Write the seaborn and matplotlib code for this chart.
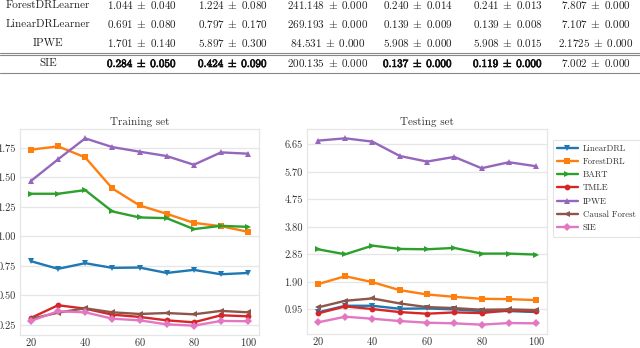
import numpy as np
import pandas as pd
import matplotlib
matplotlib.use("Agg")
import matplotlib.pyplot as plt
import matplotlib.patheffects as pe
import seaborn as sns

# ---------------- data ----------------
sizes = [20, 30, 40, 50, 60, 70, 80, 90, 100]
methods = ["LinearDRL", "ForestDRL", "BART", "TMLE", "IPWE", "Causal Forest", "SIE"]
markers = ["v", "s", ">", "o", "^", "<", "D"]

train_lineardrl = [0.79, 0.725, 0.773, 0.733, 0.736, 0.69, 0.716, 0.679, 0.69]
train_forestdrl = [1.736, 1.764, 1.671, 1.407, 1.263, 1.192, 1.115, 1.087, 1.039]
train_bart = [1.362, 1.362, 1.393, 1.212, 1.161, 1.155, 1.062, 1.09, 1.081]
train_tmle = [0.308, 0.416, 0.387, 0.336, 0.317, 0.288, 0.271, 0.331, 0.322]
train_ipwe = [1.47, 1.654, 1.832, 1.758, 1.719, 1.682, 1.608, 1.713, 1.702]
train_cf = [0.30, 0.353, 0.39, 0.356, 0.342, 0.35, 0.339, 0.368, 0.356]
train_sie = [0.283, 0.365, 0.356, 0.302, 0.288, 0.254, 0.243, 0.283, 0.28]

test_lineardrl = [0.841, 1.07, 1.07, 0.967, 0.979, 0.944, 0.887, 0.887, 0.852]
test_forestdrl = [1.817, 2.093, 1.886, 1.61, 1.46, 1.38, 1.311, 1.30, 1.266]
test_bart = [3.023, 2.85, 3.15, 3.035, 3.023, 3.07, 2.874, 2.874, 2.84]
test_tmle = [0.806, 1.048, 0.956, 0.852, 0.795, 0.841, 0.818, 0.91, 0.875]
test_ipwe = [6.78, 6.86, 6.745, 6.25, 6.056, 6.217, 5.826, 6.033, 5.895]
test_cf = [1.013, 1.243, 1.323, 1.15, 1.024, 0.99, 0.932, 0.944, 0.921]
test_sie = [0.496, 0.691, 0.622, 0.542, 0.485, 0.462, 0.416, 0.473, 0.462]

train_ticks = [0.25, 0.50, 0.75, 1.00, 1.25, 1.50, 1.75]
test_ticks = [0.95, 1.90, 2.85, 3.80, 4.75, 5.70, 6.65]
x_ticks = [20, 40, 60, 80, 100]

table_rows = ["ForestDRLearner", "LinearDRLearner", "IPWE", "SIE"]
table_cells = [
    ["1.044 ± 0.040", "1.224 ± 0.080", "241.148 ± 0.000", "0.240 ± 0.014", "0.241 ± 0.013", "7.807 ± 0.000"],
    ["0.691 ± 0.080", "0.797 ± 0.170", "269.193 ± 0.000", "0.139 ± 0.009", "0.139 ± 0.008", "7.107 ± 0.000"],
    ["1.701 ± 0.140", "5.897 ± 0.300", "84.531 ± 0.000", "5.908 ± 0.000", "5.908 ± 0.015", "2.1725 ± 0.000"],
    ["0.284 ± 0.050", "0.424 ± 0.090", "200.135 ± 0.000", "0.137 ± 0.000", "0.119 ± 0.000", "7.002 ± 0.000"],
]
sie_bold = [True, True, False, True, True, False]

# ---------------- build long tables ----------------
train_vals = [train_lineardrl, train_forestdrl, train_bart, train_tmle, train_ipwe, train_cf, train_sie]
test_vals = [test_lineardrl, test_forestdrl, test_bart, test_tmle, test_ipwe, test_cf, test_sie]

def long_df(vals):
    rows = []
    for m, v in zip(methods, vals):
        for s, y in zip(sizes, v):
            rows.append({"size": s, "value": y, "method": m})
    return pd.DataFrame(rows)

df_train = long_df(train_vals)
df_test = long_df(test_vals)

# ---------------- style ----------------
sns.set_theme(style="whitegrid")
plt.rcParams["font.family"] = ["cmr10", "DejaVu Serif"]
plt.rcParams["mathtext.fontset"] = "cm"
plt.rcParams["axes.formatter.use_mathtext"] = True
plt.rcParams["axes.unicode_minus"] = False

palette = sns.color_palette("tab10", 7)
W, H = 640, 348
fig = plt.figure(figsize=(6.4, 3.48), dpi=100)

def fx(px):
    return px / W

def fy(py):
    return 1 - py / H

def to_math(cell, bold):
    a, b = cell.split(" ± ")
    if bold:
        return "$\\mathbf{" + a + "}\\;\\pm\\;\\mathbf{" + b + "}$"
    return "$" + a + "\\;\\pm\\;" + b + "$"

# ---------------- table ----------------
row_y = [5, 24, 43, 63]
col_x = [48, 142, 233, 328, 418, 508, 596]
tfs = 8.0
for i, (name, cells) in enumerate(zip(table_rows, table_cells)):
    fig.text(fx(col_x[0]), fy(row_y[i]), name, ha="center", va="center", fontsize=tfs,
             color="#222222")
    for j, c in enumerate(cells):
        bold = i == 3 and sie_bold[j]
        t = fig.text(fx(col_x[j + 1]), fy(row_y[i]), to_math(c, bold), ha="center",
                     va="center", fontsize=tfs, color="#111111" if bold else "#222222")
        if bold:
            t.set_path_effects([pe.withStroke(linewidth=0.5, foreground="#111111")])

for ypx in [52.5, 54.5, 72.5]:
    fig.add_artist(plt.Line2D([0, 1], [fy(ypx), fy(ypx)], color="#888888", lw=0.8,
                              transform=fig.transFigure))

# ---------------- plots ----------------
ax1 = fig.add_axes([fx(20), fy(335), fx(239), 206 / H])
ax2 = fig.add_axes([fx(307), fy(334), fx(240), 205 / H])

for ax, df, ticks, title in [(ax1, df_train, train_ticks, "Training set"),
                             (ax2, df_test, test_ticks, "Testing set")]:
    sns.lineplot(data=df, x="size", y="value", hue="method", style="method",
                 hue_order=methods, style_order=methods, palette=palette,
                 markers=markers, dashes=False, markersize=4.2, linewidth=1.7,
                 markeredgewidth=0, ax=ax, legend=(ax is ax2))
    ax.set_xticks(x_ticks)
    ax.set_yticks(ticks)
    ax.set_yticklabels([f"{t:.2f}" for t in ticks])
    ax.set_xlabel("")
    ax.set_ylabel("")
    ax.set_title(title, fontsize=8, pad=3, color="#333333")
    ax.grid(axis="x", visible=False)
    ax.grid(axis="y", color="#e6e6e6", lw=0.9)
    ax.tick_params(axis="y", labelsize=7.5, length=0, pad=3, colors="#333333")
    ax.tick_params(axis="x", labelsize=7.5, length=0, pad=1, colors="#333333")
    for sp in ax.spines.values():
        sp.set_color("#e6e6e6")
        sp.set_linewidth(0.9)

leg = ax2.legend(loc="upper left", bbox_to_anchor=(1.005, 0.97), fontsize=6.3,
                 handlelength=2.3, handletextpad=0.6, labelspacing=0.55,
                 borderpad=0.55, frameon=True, fancybox=True)
leg.get_frame().set_edgecolor("#dddddd")
leg.get_frame().set_linewidth(0.8)
for t in leg.get_texts():
    t.set_color("#333333")

fig.savefig("out.png", dpi=100)
